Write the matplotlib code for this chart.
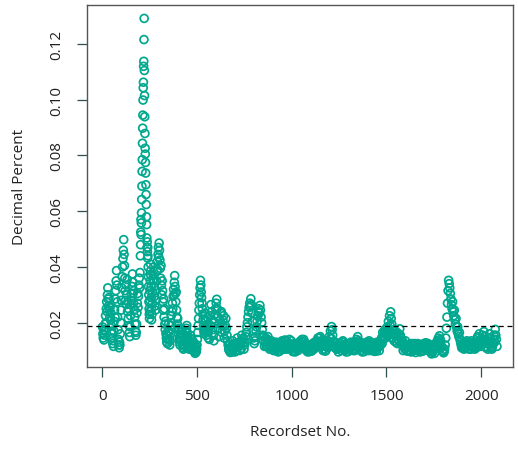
import numpy as np
import matplotlib.pyplot as plt

plt.rcParams['font.family'] = ['Open Sans', 'DejaVu Sans']

# decimal percent per recordset, written in thousandths
# records 1-199, every 2nd
rate_a = [
    18.5, 16.0, 14.5, 17.5, 13.8, 15.5, 17.0,
    19.5, 22.5, 20.0, 25.0, 27.5, 24.0, 30.0, 32.5,
    28.5, 26.0, 29.0, 24.5, 22.0, 25.5, 21.0, 23.5, 19.0, 17.0,
    14.5, 16.0, 12.5, 13.5, 11.5,
    17.0, 20.5, 24.5, 22.0, 28.5, 31.5, 35.0, 38.7, 33.5, 27.5,
    22.0, 17.5, 14.0, 12.0, 11.0, 13.0, 12.0, 16.0,
    20.0, 24.5, 28.0, 32.5, 36.5, 40.0, 43.0, 46.0, 49.8, 44.5, 40.5, 36.0,
    31.5, 28.0, 33.5, 26.5, 30.0, 35.5, 24.0, 27.5, 21.5, 25.0, 19.0, 16.5, 15.0, 18.5, 22.5,
    26.5, 30.5, 28.0, 33.0, 37.5, 34.5, 30.5, 27.0, 31.5, 24.5, 22.0, 19.5, 17.0, 15.5, 16.5,
    19.5, 23.5, 27.0, 30.5, 25.5, 29.5, 33.5, 36.0, 32.5, 38.0,
]
# records 201-260, every record
rate_spike = [
    44.0, 48.0, 52.5, 57.0, 51.6, 55.8, 59.4, 64.2, 69.0, 74.3,
    78.5, 84.4, 89.8, 94.5, 99.9, 104.3, 106.3, 112.0, 113.8, 121.6,
    129.2, 110.5, 101.5, 93.9, 87.9, 82.6, 80.5, 77.5, 73.7, 69.5,
    66.0, 62.4, 58.0, 55.2, 50.4, 47.0, 49.0, 45.5, 43.2, 47.0,
    44.0, 40.0, 36.5, 33.0, 30.0, 27.5, 25.0, 23.0, 21.5, 24.0,
    28.0, 31.5, 35.0, 38.5, 41.0, 37.0, 33.0, 29.0, 25.0, 21.0,
]
# records 262-560, every 2nd
rate_b = [
    23.0, 27.0, 31.0, 35.5, 40.0, 37.0, 33.0, 29.5, 26.0, 24.5, 28.0, 31.5, 35.0, 38.5, 42.0, 39.0, 44.5, 47.0, 43.5, 48.6,
    46.0, 42.5, 39.5, 36.0, 40.5, 33.5, 30.0, 35.0, 31.5, 27.5, 24.5, 28.5, 22.0, 25.0, 19.5, 17.5, 20.5, 16.0, 14.5, 13.0,
    15.5, 12.5, 14.0, 17.0, 19.5, 16.5, 14.0, 12.0, 13.5, 16.0, 19.0, 22.5, 20.0, 24.0, 27.0, 25.0, 29.5, 32.0, 30.0, 34.5,
    36.9, 33.0, 30.5, 27.5, 31.0, 24.5, 22.0, 19.5, 21.5, 17.5, 16.0, 18.0, 14.5, 13.0, 12.0, 14.5, 16.5, 13.5, 15.5, 17.5,
    15.0, 12.5, 11.0, 10.5, 12.0, 14.0, 11.5, 13.5, 15.5, 17.0, 14.5, 18.0, 19.0, 16.5, 14.5, 12.0, 13.5, 11.0, 10.5, 12.5,
    14.5, 15.5, 13.0, 11.5, 10.5, 12.5, 14.0, 12.0, 10.5, 11.5, 13.0, 10.0, 9.5, 11.0, 9.0, 10.0, 11.5, 9.5, 10.5, 12.0,
    14.0, 16.5, 19.0, 21.5, 24.5, 27.0, 30.0, 32.5, 35.2, 33.5, 31.0, 29.0, 27.0, 25.0, 23.0, 21.0, 19.0, 17.0, 16.0, 18.5,
    21.0, 23.5, 20.5, 17.5, 15.5, 18.0, 22.0, 19.0, 16.5, 14.5,
]
# records 562-1798, every 3rd
rate_c = [
    17.5, 14.0, 22.5, 19.0, 26.5, 24.0, 21.0, 17.5, 15.5, 13.5, 20.0, 23.0, 25.0, 27.0, 28.4, 25.0, 22.0, 18.0, 15.0, 19.5,
    21.0, 23.5, 24.0, 16.5, 19.0, 21.0, 22.5, 14.5, 17.0, 19.0, 21.5, 18.0, 15.5, 13.5, 12.0, 10.5, 10.0, 12.0, 9.3, 11.0,
    11.5, 9.5, 13.5, 12.0, 10.5, 12.5, 9.5, 11.0, 12.0, 10.0, 14.5, 12.5, 11.5, 13.0, 10.0, 12.0, 13.0, 10.5, 15.5, 13.5,
    12.5, 14.5, 10.5, 12.0, 13.0, 15.0, 16.5, 18.5, 20.0, 22.0, 24.0, 25.5, 27.0, 26.0, 28.6, 26.5, 23.5, 20.5, 17.0, 14.5,
    12.5, 13.5, 15.0, 17.0, 18.5, 20.5, 22.5, 24.0, 25.0, 23.5, 26.2, 24.5, 22.0, 20.0, 17.5, 15.5, 13.5, 15.0, 11.5, 13.0,
    14.5, 11.5, 12.0, 14.0, 15.0, 12.5, 13.0, 10.5, 11.0, 12.5, 13.5, 11.0, 11.5, 13.0, 10.0, 11.5, 12.5, 10.0, 11.0, 13.0,
    10.5, 12.0, 9.5, 11.5, 11.0, 9.8, 12.5, 10.5, 11.5, 13.5, 13.0, 11.0, 12.0, 10.5, 13.8, 11.5, 12.0, 13.5, 10.5, 12.5,
    12.5, 11.0, 14.0, 12.5, 12.0, 13.5, 10.5, 12.0, 9.6, 11.5, 11.0, 9.8, 9.5, 11.5, 10.5, 12.5, 12.0, 10.0, 11.0, 13.0,
    12.5, 11.0, 13.5, 12.0, 14.0, 11.5, 12.0, 14.0, 13.0, 10.5, 11.0, 12.5, 10.0, 11.5, 9.5, 11.5, 11.0, 9.6, 10.0, 12.0,
    11.5, 9.8, 10.5, 12.5, 12.0, 10.5, 13.0, 11.0, 11.5, 13.0, 13.5, 12.0, 14.5, 12.5, 13.0, 14.5, 15.0, 12.5, 13.5, 11.5,
    12.0, 10.0, 10.5, 12.5, 11.5, 9.8, 10.0, 11.5, 12.0, 11.0, 13.5, 12.5, 15.0, 13.0, 17.0, 14.5, 18.6, 17.5, 15.5, 13.0,
    13.0, 11.5, 11.0, 13.0, 12.5, 10.5, 10.5, 12.0, 9.5, 11.0, 11.0, 12.5, 12.5, 10.0, 11.5, 13.0, 13.5, 11.0, 12.0, 10.0,
    10.5, 12.0, 9.5, 11.0, 11.0, 9.6, 12.5, 10.5, 11.0, 12.5, 13.0, 11.0, 12.0, 10.5, 10.0, 12.0, 11.5, 10.0, 13.0, 11.5,
    14.0, 12.0, 15.0, 13.5, 13.0, 11.0, 11.5, 13.0, 10.0, 11.5, 9.5, 11.0, 11.0, 9.6, 12.5, 10.5, 11.0, 12.5, 13.0, 10.5,
    12.0, 10.0, 13.5, 11.5, 11.5, 13.0, 10.0, 11.5, 12.5, 10.0, 11.0, 12.5, 9.7, 11.0, 11.5, 9.8, 13.0, 11.0, 11.5, 13.0,
    10.0, 11.5, 12.0, 13.5, 14.5, 12.5, 16.5, 14.0, 15.0, 16.5, 17.5, 14.5, 16.0, 17.0, 18.5, 15.5, 20.5, 17.0, 22.5, 19.0,
    23.9, 21.5, 19.5, 14.5, 16.0, 17.5, 13.5, 15.5, 17.0, 13.0, 15.0, 16.5, 12.5, 14.0, 16.0, 13.5, 17.8, 15.5, 14.5, 12.5,
    12.0, 13.5, 10.0, 11.5, 12.5, 10.5, 13.5, 12.0, 11.5, 9.8, 10.0, 12.0, 12.0, 10.0, 11.0, 12.5, 9.5, 11.0, 10.5, 12.5,
    12.0, 10.0, 11.0, 12.5, 9.3, 10.5, 10.5, 12.0, 12.5, 10.0, 11.0, 12.0, 9.5, 11.0, 10.0, 12.0, 11.5, 9.8, 12.5, 11.0,
    11.0, 12.5, 12.8, 10.5, 11.5, 12.0, 12.5, 10.0, 10.5, 11.5, 9.5, 10.5, 8.8, 10.0, 9.5, 11.0, 10.5, 9.0, 11.5, 12.5,
    12.5, 11.0, 13.5, 12.0, 14.5, 13.0, 15.3, 14.0, 13.5, 11.0, 11.5, 9.8, 10.0,
]
# records 1801-1900, every 3rd
rate_d = [
    9.2, 9.5, 10.5, 12.0, 14.5, 18.0, 22.0, 27.0, 31.5, 35.2,
    34.0, 32.5, 30.5, 28.5, 26.5, 25.0, 27.5, 24.0, 22.5, 24.5,
    21.0, 19.5, 21.5, 18.5, 17.0, 18.5, 16.0, 15.0, 16.5, 14.0,
    13.0, 12.0, 11.0, 11.5,
]
# records 1903-2083, every 3rd
rate_e = [
    11.0,
    12.5, 10.5, 11.0, 13.0, 12.5, 11.0, 13.5, 12.0, 11.5, 13.0, 10.5, 12.0, 12.0, 10.5, 13.5, 11.5, 11.0, 13.0, 12.5, 11.0,
    10.5, 13.0, 12.0, 11.0, 13.0, 15.0, 14.5, 12.5, 16.0, 13.5, 14.0, 11.5, 12.0, 14.0, 15.5, 13.0, 16.8, 15.0, 13.5, 11.5,
    11.0, 13.0, 12.5, 10.5, 14.5, 12.5, 16.0, 14.5, 13.0, 11.0, 10.5, 11.5, 12.5, 14.0, 15.5, 13.0, 17.6, 15.5, 14.0, 11.5,
]
ref_level = 0.0189

segments = [(1, 2, rate_a), (201, 1, rate_spike), (262, 2, rate_b),
            (562, 3, rate_c), (1801, 3, rate_d), (1903, 3, rate_e)]
rec = np.concatenate([np.arange(s, s + k * len(v), k) for s, k, v in segments])
val = np.concatenate([np.asarray(v, dtype=float) for _, _, v in segments]) / 1000

fig = plt.figure(figsize=(5.18, 4.6), dpi=100)
ax = fig.add_axes([0.1674, 0.1993, 0.8224, 0.7877])

ax.scatter(rec, val, s=32, facecolors='none', edgecolors='#00a88f', linewidths=1.25)
ax.axhline(ref_level, color='black', lw=0.9, ls=(0, (4, 3)))

# R style 4% padding around the data
px = 0.04 * (rec.max() - rec.min())
py = 0.04 * (val.max() - val.min())
ax.set_xlim(rec.min() - px, rec.max() + px)
ax.set_ylim(val.min() - py, val.max() + py)

ax.set_xticks([0, 500, 1000, 1500, 2000])
ax.set_yticks([0.02, 0.04, 0.06, 0.08, 0.10, 0.12])
ax.set_yticklabels(['%.2f' % t for t in ax.get_yticks()])
ax.tick_params(direction='out', length=7, width=0.9, color='#2f4f4f',
               labelsize=11, labelcolor='#222222')
ax.tick_params(axis='x', pad=8)
ax.tick_params(axis='y', pad=9)
plt.setp(ax.get_yticklabels(), rotation=90, va='center')

for sp in ax.spines.values():
    sp.set_color('#555555')
    sp.set_linewidth(1)

ax.set_xlabel('Recordset No.', fontsize=11, color='#222222', labelpad=15)
ax.set_ylabel('Decimal Percent', fontsize=11, color='#222222', labelpad=16)

fig.savefig('out.png', dpi=100)
